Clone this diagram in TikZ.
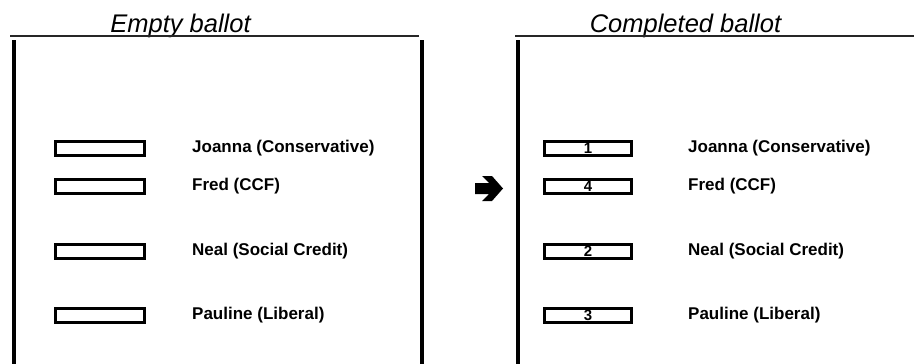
\documentclass[tikz,border=0pt]{standalone}
\usepackage{fontspec}
\setmainfont{Liberation Sans}
\begin{document}
\begin{tikzpicture}[x=1pt,y=-1pt,
  title/.style={font=\fontsize{25.5}{28}\selectfont\itshape, anchor=base, inner sep=0pt},
  rule/.style={line width=2pt, draw=black!85},
  border/.style={line width=4pt, draw=black},
  votebox/.style={draw=black, line width=3pt, minimum width=89pt, minimum height=14pt, inner sep=0pt,
     font=\fontsize{15}{17}\selectfont\bfseries},
  cand/.style={anchor=west, inner sep=0pt, font=\fontsize{17}{19}\selectfont\bfseries}]
\useasboundingbox (0,0) rectangle (914,364);
% titles and rules
\node[title] (t1) at (180.5,32) {Empty ballot};
\node[title] (t2) at (685.5,32) {Completed ballot};
\coordinate (r1a) at (10,36);  \coordinate (r1b) at (419,36);
\coordinate (r2a) at (515,36); \coordinate (r2b) at (914,36);
\draw[rule] (r1a) -- (r1b);
\draw[rule] (r2a) -- (r2b);
% borders
\coordinate (b1t) at (14,40);  \coordinate (b1b) at (14,364);
\coordinate (b2t) at (422,40); \coordinate (b2b) at (422,364);
\coordinate (b3t) at (518,40); \coordinate (b3b) at (518,364);
\draw[border] (b1t) -- (b1b);
\draw[border] (b2t) -- (b2b);
\draw[border] (b3t) -- (b3b);
% empty ballot
\node[votebox] (e1) at (100,148.5) {};
\node[votebox] (e2) at (100,186.5) {};
\node[votebox] (e3) at (100,251.5) {};
\node[votebox] (e4) at (100,315) {};
\node[cand] (l1) at (192,148.5) {Joanna (Conservative)};
\node[cand] (l2) at (192,186.5) {Fred (CCF)};
\node[cand] (l3) at (192,251.5) {Neal (Social Credit)};
\node[cand] (l4) at (192,315) {Pauline (Liberal)};
% completed ballot
\node[votebox, minimum width=87pt] (c1) at (588,148.5) {1};
\node[votebox, minimum width=87pt] (c2) at (588,186.5) {4};
\node[votebox, minimum width=87pt] (c3) at (588,251.5) {2};
\node[votebox, minimum width=87pt] (c4) at (588,315) {3};
\node[cand] (m1) at (688,148.5) {Joanna (Conservative)};
\node[cand] (m2) at (688,186.5) {Fred (CCF)};
\node[cand] (m3) at (688,251.5) {Neal (Social Credit)};
\node[cand] (m4) at (688,315) {Pauline (Liberal)};
% arrow
\fill[black] (475,183) -- (489,183) -- (482,176) -- (492,176) -- (503,188.5)
  -- (492,201) -- (482,201) -- (489,194) -- (475,194) -- cycle;
\end{tikzpicture}
\end{document}
